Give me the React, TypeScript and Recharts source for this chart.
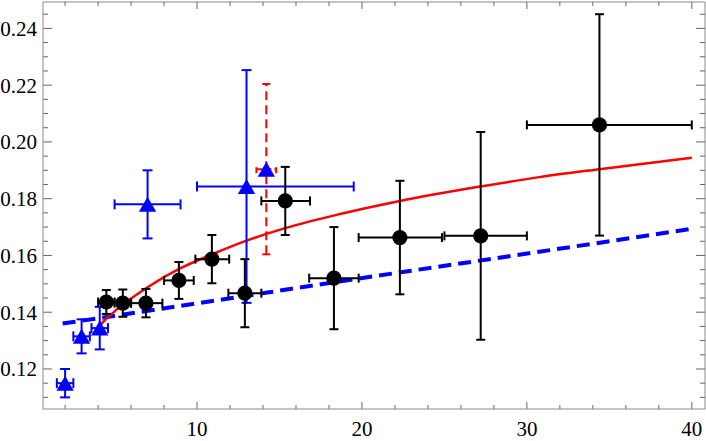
import React from 'react';
import { ComposedChart, Scatter, Line, XAxis, YAxis, ErrorBar, ReferenceLine } from 'recharts';

// black circles: binned points
const blackX = [4.5, 5.5, 6.9, 8.9, 10.9, 12.9, 15.35, 18.3, 22.3, 27.2, 34.4];
const blackY = [0.1436, 0.1432, 0.1432, 0.1512, 0.1587, 0.1467, 0.1792, 0.152, 0.1663, 0.1669, 0.206];
const blackYErr = [0.0042, 0.0048, 0.005, 0.0065, 0.0085, 0.012, 0.012, 0.018, 0.02, 0.0366, 0.039];
const blackXLow = [0.5, 0.5, 0.9, 0.9, 1.0, 1.0, 1.45, 1.5, 2.5, 2.2, 4.4];
const blackXHigh = [0.5, 0.5, 1.0, 0.9, 1.05, 1.0, 1.5, 1.5, 2.55, 2.8, 5.6];

// blue triangles
const blueX = [2.0, 3.0, 4.1, 7.0, 13.0];
const blueY = [0.115, 0.1315, 0.1344, 0.178, 0.1843];
const blueYErr = [0.005, 0.006, 0.0075, 0.012, 0.041];
const blueXLow = [0.5, 0.5, 0.5, 2.0, 3.0];
const blueXHigh = [0.5, 0.5, 0.5, 2.0, 6.5];

// triangle with red dashed errors
const redPtX = [14.2];
const redPtY = [0.1904];
const redPtYErr = [0.03];
const redPtXErr = [0.6];

// curves
const redCurveX = [3.9, 4.5, 5, 6, 7, 9, 11, 13, 15.4, 18.6, 22.3, 27.2, 30.75, 34.4, 40];
const redCurveY = [0.134, 0.1377, 0.1403, 0.1448, 0.1488, 0.1555, 0.1606, 0.1652, 0.1697, 0.1745, 0.1792, 0.1843, 0.1876, 0.1904, 0.1944];
const blueCurveX = [1.85, 10.1, 18.6, 30.75, 39.9];
const blueCurveY = [0.136, 0.1432, 0.1508, 0.1613, 0.1693];

const xMajor = [10, 20, 30, 40];
const xMinor = [2, 4, 6, 8, 12, 14, 16, 18, 22, 24, 26, 28, 32, 34, 36, 38];
const yMajor = [0.12, 0.14, 0.16, 0.18, 0.2, 0.22, 0.24];
const yMinor = [0.11, 0.115, 0.125, 0.13, 0.135, 0.145, 0.15, 0.155, 0.165, 0.17, 0.175, 0.185, 0.19, 0.195, 0.205, 0.21, 0.215, 0.225, 0.23, 0.235, 0.245];

const X_DOMAIN: [number, number] = [0.66, 40.8];
const Y_DOMAIN: [number, number] = [0.1059, 0.2493];

const blackData = blackX.map((x, i) => ({ x, y: blackY[i], ey: blackYErr[i], ex: [blackXLow[i], blackXHigh[i]] }));
const blueData = blueX.map((x, i) => ({ x, y: blueY[i], ey: blueYErr[i], ex: [blueXLow[i], blueXHigh[i]] }));
const redPtData = redPtX.map((x, i) => ({ x, y: redPtY[i], ey: redPtYErr[i], ex: redPtXErr[i] }));
const redCurve = redCurveX.map((x, i) => ({ x, y: redCurveY[i] }));
const blueCurve = blueCurveX.map((x, i) => ({ x, y: blueCurveY[i] }));

const FRAME = '#8a8a8a';
const TICK = '#666';
const labelStyle = { fontFamily: "'Liberation Serif', 'DejaVu Serif', serif", fontSize: 21 };

const Dot = (p: any) => <circle cx={p.cx} cy={p.cy} r={7.6} fill="#000" />;
const Tri = (p: any) => (
  <polygon points={`${p.cx},${p.cy - 7.5} ${p.cx - 8.7},${p.cy + 7.5} ${p.cx + 8.7},${p.cy + 7.5}`} fill="#0000ff" />
);

const XLabel = (p: any) => (
  <text x={p.x} y={p.y} dy="0.71em" textAnchor="middle" style={labelStyle} fill="#000">
    {p.payload.value}
  </text>
);
const YLabel = (p: any) => (
  <text x={p.x} y={p.y} dy="0.35em" textAnchor="end" style={labelStyle} fill="#000">
    {Number(p.payload.value).toFixed(2)}
  </text>
);

// inward tick marks at both ends of a reference line
const vTicks = (len: number) => (p: any) => {
  const top = Math.min(p.y1, p.y2);
  const bot = Math.max(p.y1, p.y2);
  return (
    <g stroke={TICK} strokeWidth={1}>
      <line x1={p.x1} x2={p.x1} y1={top} y2={top + len} />
      <line x1={p.x1} x2={p.x1} y1={bot} y2={bot - len} />
    </g>
  );
};
const hTicks = (len: number) => (p: any) => {
  const l = Math.min(p.x1, p.x2);
  const r = Math.max(p.x1, p.x2);
  return (
    <g stroke={TICK} strokeWidth={1}>
      <line y1={p.y1} y2={p.y1} x1={l} x2={l + len} />
      <line y1={p.y1} y2={p.y1} x1={r} x2={r - len} />
    </g>
  );
};

export default function App() {
  return (
    <div style={{ position: 'absolute', left: 0, top: 0 }}>
      <ComposedChart width={706} height={441} margin={{ top: 2, right: 1, bottom: 0, left: 0 }}>
        <XAxis xAxisId="b" type="number" dataKey="x" domain={X_DOMAIN} allowDataOverflow ticks={xMajor} height={32}
          tickLine={false} tickSize={0} tickMargin={12} axisLine={{ stroke: FRAME }} tick={XLabel} />
        <YAxis yAxisId="l" type="number" dataKey="y" domain={Y_DOMAIN} allowDataOverflow ticks={yMajor} width={43}
          tickLine={false} tickSize={0} tickMargin={6} axisLine={{ stroke: FRAME }} tick={YLabel} />

        {/* top and right frame */}
        <ReferenceLine xAxisId="b" yAxisId="l" y={Y_DOMAIN[1]} stroke={FRAME} strokeWidth={1} />
        <ReferenceLine xAxisId="b" yAxisId="l" x={X_DOMAIN[1]} stroke={FRAME} strokeWidth={1} />

        {xMinor.map(v => <ReferenceLine key={`xm${v}`} xAxisId="b" yAxisId="l" x={v} shape={vTicks(4)} />)}
        {xMajor.map(v => <ReferenceLine key={`xM${v}`} xAxisId="b" yAxisId="l" x={v} shape={vTicks(7)} />)}
        {yMinor.map(v => <ReferenceLine key={`ym${v}`} xAxisId="b" yAxisId="l" y={v} shape={hTicks(5)} />)}
        {yMajor.map(v => <ReferenceLine key={`yM${v}`} xAxisId="b" yAxisId="l" y={v} shape={hTicks(9)} />)}

        <Line xAxisId="b" yAxisId="l" data={blueCurve} dataKey="y" type="monotone" stroke="#0000ff" strokeWidth={4}
          strokeDasharray="13 7" dot={false} activeDot={false} isAnimationActive={false} />
        <Line xAxisId="b" yAxisId="l" data={redCurve} dataKey="y" type="monotone" stroke="#ff0000" strokeWidth={2.5}
          dot={false} activeDot={false} isAnimationActive={false} />

        <Scatter xAxisId="b" yAxisId="l" data={blueData} dataKey="y" shape={Tri} isAnimationActive={false}>
          <ErrorBar dataKey="ey" direction="y" width={5} stroke="#0000ff" strokeWidth={2} />
          <ErrorBar dataKey="ex" direction="x" width={5} stroke="#0000ff" strokeWidth={2} />
        </Scatter>
        <Scatter xAxisId="b" yAxisId="l" data={redPtData} dataKey="y" shape={Tri} isAnimationActive={false}>
          <ErrorBar dataKey="ey" direction="y" width={4} stroke="#ff0000" strokeWidth={2} strokeDasharray="9 5" />
          <ErrorBar dataKey="ex" direction="x" width={4} stroke="#ff0000" strokeWidth={2} strokeDasharray="6 3" />
        </Scatter>
        <Scatter xAxisId="b" yAxisId="l" data={blackData} dataKey="y" shape={Dot} isAnimationActive={false}>
          <ErrorBar dataKey="ey" direction="y" width={4.5} stroke="#000" strokeWidth={2} />
          <ErrorBar dataKey="ex" direction="x" width={4.5} stroke="#000" strokeWidth={2} />
        </Scatter>
      </ComposedChart>
    </div>
  );
}
